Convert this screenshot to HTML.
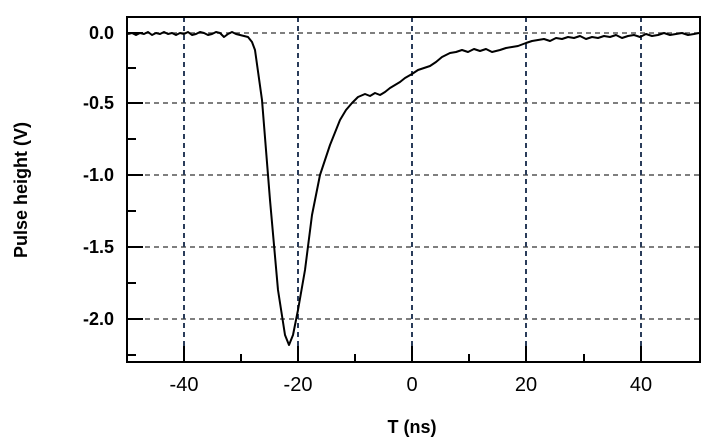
<!DOCTYPE html>
<html><head><meta charset="utf-8"><style>
html,body{margin:0;padding:0;background:#fff;}
svg{display:block;font-family:"Liberation Sans",Arial,sans-serif;}
</style></head><body>
<svg width="722" height="447" viewBox="0 0 722 447">
<g stroke="#555" stroke-width="1.5" stroke-dasharray="5,4">
<line x1="127" y1="33" x2="700" y2="33"/>
<line x1="127" y1="103" x2="700" y2="103"/>
<line x1="127" y1="175" x2="700" y2="175"/>
<line x1="127" y1="247" x2="700" y2="247"/>
<line x1="127" y1="319" x2="700" y2="319"/>
</g>
<g stroke="#2a3c5a" stroke-width="2" stroke-dasharray="5,4">
<line x1="184" y1="17" x2="184" y2="362"/>
<line x1="298" y1="17" x2="298" y2="362"/>
<line x1="412" y1="17" x2="412" y2="362"/>
<line x1="526" y1="17" x2="526" y2="362"/>
<line x1="641" y1="17" x2="641" y2="362"/>
</g>
<g stroke="#000" stroke-width="2">
<line x1="127" y1="33" x2="143" y2="33"/><line x1="127" y1="103" x2="143" y2="103"/>
<line x1="127" y1="175" x2="143" y2="175"/><line x1="127" y1="247" x2="143" y2="247"/>
<line x1="127" y1="319" x2="143" y2="319"/>
<line x1="127" y1="68" x2="136" y2="68"/><line x1="127" y1="139" x2="136" y2="139"/>
<line x1="127" y1="211" x2="136" y2="211"/><line x1="127" y1="283" x2="136" y2="283"/>
<line x1="127" y1="355" x2="136" y2="355"/>
<line x1="184" y1="362" x2="184" y2="346"/><line x1="298" y1="362" x2="298" y2="346"/>
<line x1="412" y1="362" x2="412" y2="346"/><line x1="526" y1="362" x2="526" y2="346"/>
<line x1="641" y1="362" x2="641" y2="346"/>
<line x1="241" y1="362" x2="241" y2="354"/><line x1="355" y1="362" x2="355" y2="354"/>
<line x1="469" y1="362" x2="469" y2="354"/><line x1="584" y1="362" x2="584" y2="354"/>
</g>
<rect x="127" y="17" width="573" height="345" fill="none" stroke="#000" stroke-width="2"/>
<polyline fill="none" stroke="#000" stroke-width="2" stroke-linejoin="round" points="128,34 132,33 136,35 140,33 144,34 148,32 152,35 156,33 160,34 164,32 168,34 172,33 176,35 180,33 184,34 188,32 192,35 196,34 200,32 204,33 208,35 212,34 216,32 220,33 224,37 228,34 232,32 236,34 240,35 244,36 248,37 252,42 255,50 262,100 270,200 278,290 285,335 289,345 293,335 298,310 305,270 312,215 320,175 330,145 340,120 346,110 352,103 358,97 365,94 370,96 375,93 380,95 385,92 390,88 395,85 400,82 405,78 412,74 418,70 424,68 430,66 436,62 442,57 450,53 456,52 462,50 468,52 474,49 480,51 486,49 492,52 500,50 506,48 512,47 518,46 526,43 532,41 538,40 544,39 550,41 556,38 562,39 568,37 574,38 580,36 586,39 592,37 598,38 604,36 610,37 616,35 622,38 628,36 634,35 640,37 646,34 652,36 658,35 664,33 670,35 676,34 682,33 688,35 694,34 699,33"/>
<g font-size="18" font-weight="bold" text-anchor="end">
<text x="114" y="39">0.0</text><text x="114" y="109">-0.5</text>
<text x="114" y="181">-1.0</text><text x="114" y="253">-1.5</text>
<text x="114" y="325">-2.0</text>
</g>
<g font-size="20" text-anchor="middle">
<text x="184" y="391">-40</text><text x="298" y="391">-20</text>
<text x="412" y="391">0</text><text x="526" y="391">20</text><text x="641" y="391">40</text>
</g>
<text x="412" y="433" font-size="18" font-weight="bold" text-anchor="middle">T (ns)</text>
<text transform="translate(27,190) rotate(-90)" font-size="18" font-weight="bold" text-anchor="middle">Pulse height (V)</text>
</svg>
</body></html>
